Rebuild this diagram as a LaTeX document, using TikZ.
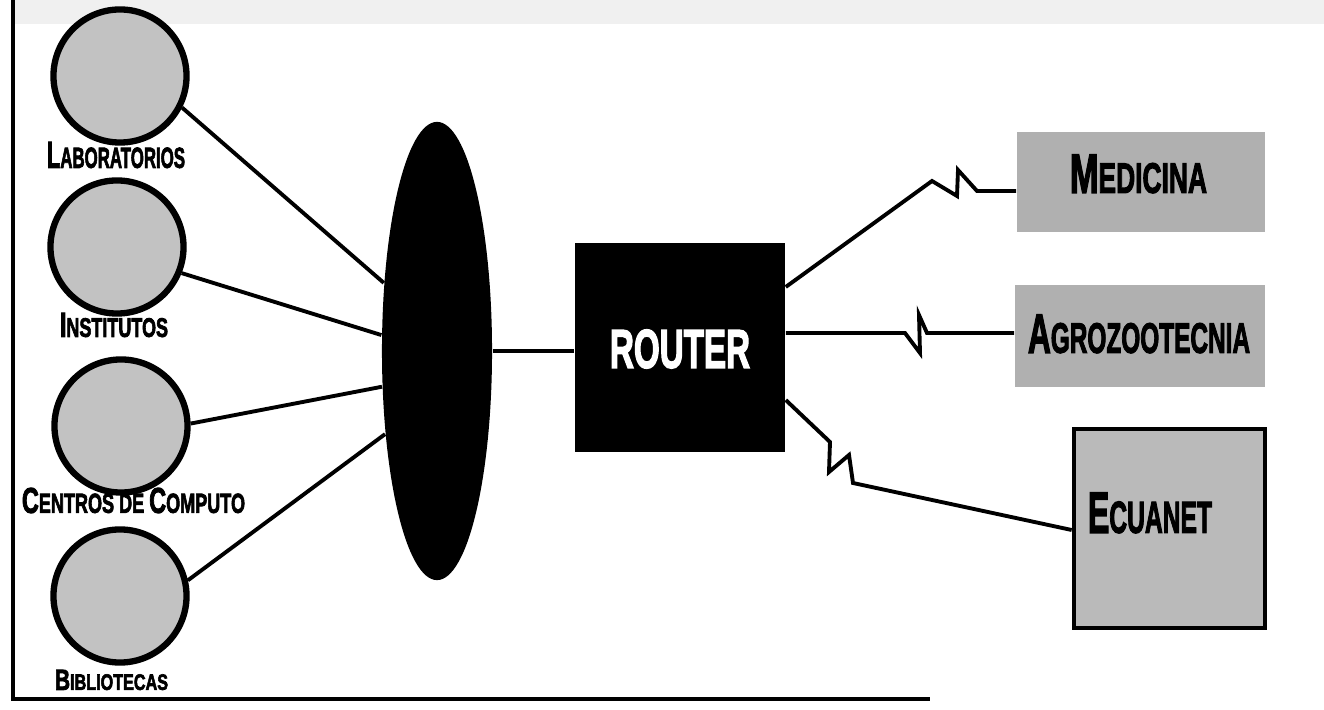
\documentclass[tikz,border=0pt]{standalone}
\usepackage{fontspec}
\usepackage{graphicx}
\usetikzlibrary{shapes.geometric}
\newfontfamily\heavy{Liberation Sans}[UprightFont={* Bold}, FakeBold=3]
\newcommand\capsc[2]{{\fontsize{10}{10}\selectfont #1}{\fontsize{7.7}{7.7}\selectfont #2}}
\newcommand\fitlbl[3]{\resizebox{#1}{#2}{\heavy #3}}
\definecolor{sitegray}{gray}{0.76}
\definecolor{boxgray}{gray}{0.69}
\definecolor{ecugray}{gray}{0.73}
\begin{document}
\begin{tikzpicture}[x=0.01cm, y=-0.01cm,
  site/.style={circle, draw=black, line width=1.8pt, fill=sitegray, minimum size=1.33cm, inner sep=0pt},
  link/.style={line width=1.1pt, line join=miter},
  dept/.style={rectangle, fill=boxgray, inner sep=0pt},
  lbl/.style={inner sep=0pt, anchor=center}]
\useasboundingbox (0,0) rectangle (1324,710);
\fill[white] (0,0) rectangle (1324,710);
% page frame
\fill[black!6] (13,0) rectangle (1324,24);
\draw[line width=1.2pt] (13,0) -- (13,699) -- (930,699);

% sites
\node[site] (lab) at (120,76) {};
\node[site] (inst) at (117,247) {};
\node[site] (cent) at (121,426) {};
\node[site] (bib) at (120,596) {};
\node[lbl] (labt) at (116,155) {\fitlbl{1.38cm}{0.26cm}{\capsc{L}{ABORATORIOS}}};
\node[lbl] (instt) at (114,325) {\fitlbl{1.08cm}{0.24cm}{\capsc{I}{NSTITUTOS}}};
\node[lbl] (centt) at (133.5,500.5) {\fitlbl{2.23cm}{0.25cm}{\capsc{C}{ENTROS DE }\capsc{C}{OMPUTO}}};
\node[lbl] (bibt) at (111.5,680) {\fitlbl{1.13cm}{0.20cm}{\capsc{B}{IBLIOTECAS}}};

% backbone and router
\node[ellipse, fill=black, minimum width=1.10cm, minimum height=4.58cm, inner sep=0pt] (ell) at (437,351) {};
\node[rectangle, fill=black, minimum width=2.10cm, minimum height=2.09cm, inner sep=0pt] (router) at (680,347.5) {};
\node[lbl, text=white] (routert) at (680,349) {\fitlbl{1.40cm}{0.38cm}{ROUTER}};

% departments
\node[dept, minimum width=2.48cm, minimum height=1.00cm] (med) at (1141,182) {};
\node[dept, minimum width=2.50cm, minimum height=1.02cm] (agro) at (1140,336) {};
\node[dept, draw=black, line width=1.3pt, fill=ecugray, minimum width=1.91cm, minimum height=1.99cm] (ecu) at (1169.5,528.5) {};
\node[lbl] (medt) at (1138.5,174) {\fitlbl{1.37cm}{0.38cm}{\capsc{M}{EDICINA}}};
\node[lbl] (agrot) at (1139,334) {\fitlbl{2.22cm}{0.38cm}{\capsc{A}{GROZOOTECNIA}}};
\node[lbl] (ecut) at (1150,513) {\fitlbl{1.24cm}{0.40cm}{\capsc{E}{CUANET}}};

% connectors
\draw[link] (lab.-27) -- (ell.128);
\draw[link] (inst.-22) -- (ell.164);
\draw[link] (cent.2) -- (ell.213.7);
\draw[link] (bib.13) -- (ell.238);
\draw[link] (ell.east) -- (ell.east -| router.west);
\draw[link] ([yshift=6.05mm]router.east) -- (932,181) -- (957,196) -- (958,170) -- (977,191) -- ([yshift=-0.9mm]med.west);
\draw[link] ([yshift=1.45mm]router.east) -- (905,333) -- (920,353) -- (919,315) -- (927,333) -- ([yshift=0.3mm]agro.west);
\draw[link] ([yshift=-5.25mm]router.east) -- (830,442) -- (829,472) -- (849,455) -- (853,483) -- ([yshift=-0.15mm]ecu.west);
\end{tikzpicture}
\end{document}
